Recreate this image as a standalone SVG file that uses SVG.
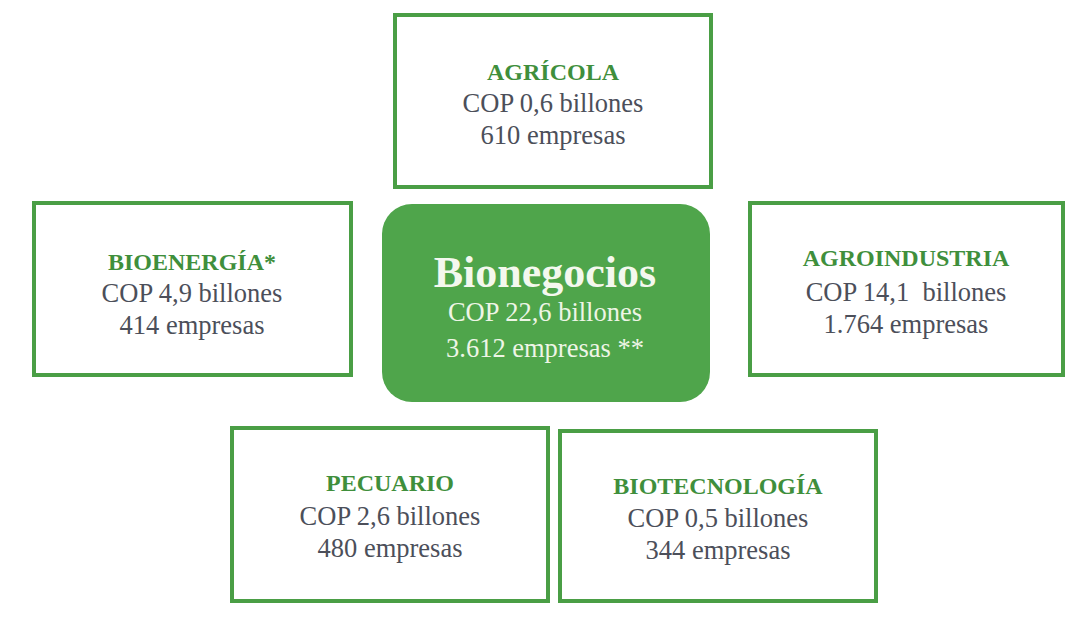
<svg xmlns="http://www.w3.org/2000/svg" width="1068" height="618" viewBox="0 0 1068 618">
<defs>
<style>
.box{fill:#ffffff;stroke:#4a9e45;stroke-width:4}
.t{font-family:"Liberation Serif",serif;font-size:24px;text-anchor:middle}
.ti{font-weight:bold;fill:#3f8f3c}
.tx{fill:#4c4f5a;font-size:26.5px}
.center{fill:#4fa54b}
.ct{fill:#eef5e6;font-size:26.5px}
</style>
</defs>
<rect width="1068" height="618" fill="#ffffff"/>
<g id="connectors"></g>
<g id="agricola">
<rect class="box" x="395" y="15" width="316" height="172"/>
<text class="t ti" x="553" y="80">AGRÍCOLA</text>
<text class="t tx" x="553" y="112">COP 0,6 billones</text>
<text class="t tx" x="553" y="144">610 empresas</text>
</g>
<g id="bioenergia">
<rect class="box" x="34" y="203" width="317" height="172"/>
<text class="t ti" x="192" y="270">BIOENERGÍA*</text>
<text class="t tx" x="192" y="302">COP 4,9 billones</text>
<text class="t tx" x="192" y="334">414 empresas</text>
</g>
<g id="agroindustria">
<rect class="box" x="750" y="203" width="313" height="172"/>
<text class="t ti" x="906" y="266">AGROINDUSTRIA</text>
<text class="t tx" x="906" y="301" xml:space="preserve" style="white-space:pre">COP 14,1  billones</text>
<text class="t tx" x="906" y="333">1.764 empresas</text>
</g>
<g id="bionegocios">
<rect class="center" x="382" y="204" width="328" height="198" rx="30" ry="30"/>
<text class="t" x="545" y="287" style="font-size:44px;font-weight:bold;fill:#f4f8ee">Bionegocios</text>
<text class="t ct" x="545" y="321">COP 22,6 billones</text>
<text class="t ct" x="545" y="357">3.612 empresas **</text>
</g>
<g id="pecuario">
<rect class="box" x="232" y="428" width="316" height="173"/>
<text class="t ti" x="390" y="491">PECUARIO</text>
<text class="t tx" x="390" y="525">COP 2,6 billones</text>
<text class="t tx" x="390" y="557">480 empresas</text>
</g>
<g id="biotecnologia">
<rect class="box" x="560" y="431" width="316" height="170"/>
<text class="t ti" x="718" y="494">BIOTECNOLOGÍA</text>
<text class="t tx" x="718" y="527">COP 0,5 billones</text>
<text class="t tx" x="718" y="559">344 empresas</text>
</g>
</svg>
